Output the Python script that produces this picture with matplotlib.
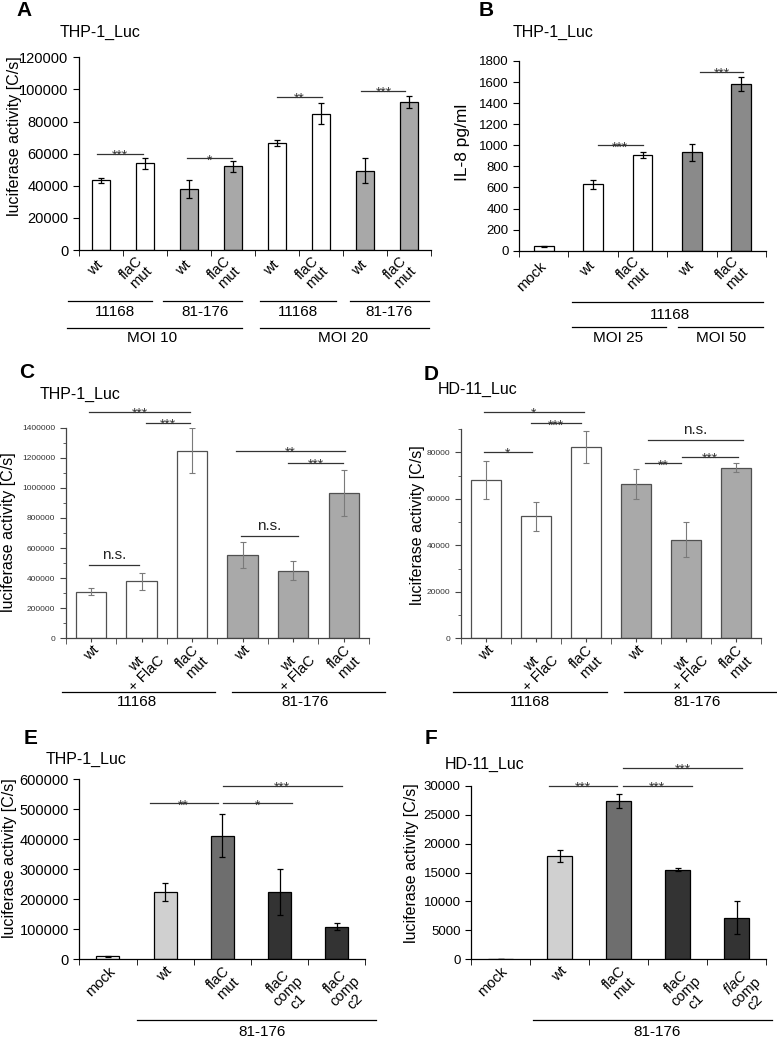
import numpy as np
import matplotlib
matplotlib.use('Agg')
import matplotlib.pyplot as plt
from matplotlib.lines import Line2D
from matplotlib.transforms import ScaledTranslation
from matplotlib.ticker import StrMethodFormatter, MultipleLocator

plt.rcParams['font.family'] = ['Liberation Sans', 'DejaVu Sans']
plt.rcParams['mathtext.fontset'] = 'custom'
plt.rcParams['mathtext.it'] = 'Liberation Sans:italic'
plt.rcParams['mathtext.rm'] = 'Liberation Sans'

W, H = 777, 1039

# ---- data ----
a_labels = ['wt', 'flaC\nmut', 'wt', 'flaC\nmut', 'wt', 'flaC\nmut', 'wt', 'flaC\nmut']
a_values = [43300, 53900, 38100, 52200, 66700, 85000, 49500, 92200]
a_errors = [1800, 3500, 5600, 3400, 2000, 6300, 8000, 3900]

b_labels = ['mock', 'wt', 'flaC\nmut', 'wt', 'flaC\nmut']
b_values = [40, 630, 905, 932, 1580]
b_errors = [3, 45, 27, 80, 65]

c_labels = ['wt', 'wt\n+ FlaC', 'flaC\nmut', 'wt', 'wt\n+ FlaC', 'flaC\nmut']
c_values = [310000, 378000, 1247000, 551000, 450000, 966000]
c_errors = [25000, 57000, 150000, 86000, 63000, 153000]

d_labels = c_labels
d_values = [68000, 52400, 82300, 66300, 42400, 73300]
d_errors = [8200, 6300, 7000, 6400, 7500, 2000]

e_labels = ['mock', 'wt', 'flaC\nmut', 'flaC\ncomp\nc1', 'flaC\ncomp\nc2']
e_values = [10000, 224000, 412000, 224000, 109000]
e_errors = [1000, 31000, 72000, 77000, 11000]

f_labels = ['mock', 'wt', 'flaC\nmut', 'flaC\ncomp\nc1', r'$\mathit{flaC}$' + '\ncomp\nc2']
f_values = [60, 17850, 27300, 15500, 7200]
f_errors = [0, 1000, 1200, 200, 2900]

# significance brackets: (bar i, bar j, height, text, shift i, shift j)
a_sig = [(0, 1, 60000, '***', -0.08, -0.05), (2, 3, 57000, '*', -0.05, -0.03),
         (4, 5, 95300, '**', 0, 0.03), (6, 7, 99000, '***', -0.08, -0.08)]
b_sig = [(1, 2, 1000, '***', 0.1, 0), (3, 4, 1700, '***', 0.16, 0.04)]
c_sig = [(0, 2, 1506000, '***', -0.04, -0.04), (1, 2, 1433000, '***', 0.09, -0.04),
         (0, 1, 488000, 'n.s.', -0.04, -0.05), (3, 5, 1245000, '**', -0.14, 0.03),
         (4, 5, 1168000, '***', -0.1, -0.02), (3, 4, 680000, 'n.s.', -0.03, 0.1)]
d_sig = [(0, 2, 97500, '*', -0.05, -0.05), (1, 2, 92500, '***', -0.1, -0.1),
         (0, 1, 80300, '*', -0.05, -0.08), (3, 5, 85300, 'n.s.', 0.23, 0.13),
         (3, 4, 75300, '**', 0.18, -0.1), (4, 5, 78100, '***', -0.09, 0.03)]
e_sig = [(1, 2, 520000, '**', -0.27, -0.08), (2, 3, 520000, '*', 0.01, 0.21),
         (2, 4, 578700, '***', 0.01, 0.09)]
f_sig = [(1, 2, 30000, '***', -0.17, -0.03), (2, 3, 30000, '***', 0.07, 0.24),
         (2, 4, 33100, '***', 0.07, 0.1)]

WHITE = 'white'
fig = plt.figure(figsize=(W / 100, H / 100), dpi=100)


def place_axes(x0, x1, y_top, y_bottom):
    return fig.add_axes([x0 / W, 1 - y_bottom / H, (x1 - x0) / W, (y_bottom - y_top) / H])


def fig_line(x0, x1, y, lw=0.9):
    fig.add_artist(Line2D([x0 / W, x1 / W], [1 - y / H, 1 - y / H], color='black',
                          lw=lw, transform=fig.transFigure))


def fig_text(x, y, s, size=11, ha='center', va='center', **kw):
    fig.text(x / W, 1 - y / H, s, fontsize=size, ha=ha, va=va, **kw)


def bar_panel(ax, labels, values, errors, colors, ylim, width, style='excel',
              tick_size=9, label_size=10.5):
    n = len(values)
    x = np.arange(n)
    origin = style == 'origin'
    if origin:
        edge, ecol, elw, spc = '#505050', '#7a7a7a', 0.8, '#444444'
    else:
        edge, ecol, elw, spc = 'black', 'black', 0.9, 'black'
    ax.bar(x, values, width=width, color=colors, edgecolor=edge, linewidth=0.9, zorder=2)
    ax.errorbar(x, values, yerr=errors, fmt='none', ecolor=ecol, elinewidth=elw,
                capsize=2.4, capthick=elw, zorder=3)
    ax.set_xlim(-0.5, n - 0.5)
    ax.set_ylim(*ylim)
    for s in ('top', 'right'):
        ax.spines[s].set_visible(False)
    for s in ('left', 'bottom'):
        ax.spines[s].set_color(spc)
        ax.spines[s].set_linewidth(0.9)
    ax.set_xticks(x)
    common = dict(rotation=45, multialignment='center', fontsize=label_size, linespacing=1.0)
    if origin:
        ax.set_xticklabels(labels, ha='center', va='top', **common)
        ax.tick_params(axis='x', which='major', length=3, pad=0.5, color=spc)
    elif style == 'excel_top':
        ax.set_xticklabels(labels, ha='right', va='top', rotation_mode='anchor', **common)
        ax.tick_params(axis='x', which='major', length=0, pad=3.5)
        # Excel pushes the three-line labels a little further right
        for lbl, s in zip(ax.get_xticklabels(), labels):
            if s.count('\n') == 2:
                lbl.set_transform(lbl.get_transform() +
                                  ScaledTranslation(4.5 / 72, 0, fig.dpi_scale_trans))
    else:
        ax.set_xticklabels(labels, ha='right', va='center', rotation_mode='anchor', **common)
        ax.tick_params(axis='x', which='major', length=0, pad=9.5)
    ax.set_xticks(np.arange(n + 1) - 0.5, minor=True)
    ax.tick_params(axis='x', which='minor', length=4, direction='out', color=spc)
    ax.yaxis.set_major_formatter(StrMethodFormatter('{x:.0f}'))
    ax.tick_params(axis='y', which='both', labelsize=tick_size, color=spc, length=4)
    if origin:
        ax.tick_params(axis='y', labelcolor='#333333')
        ax.tick_params(axis='y', which='minor', length=2)
    return ax


def sig(ax, marks, size=10):
    for i, j, y, txt, di, dj in marks:
        ax.plot([i + di, j + dj], [y, y], color='#333333', lw=0.9, clip_on=False)
        if txt == 'n.s.':
            ax.annotate(txt, ((i + di + j + dj) / 2, y), xytext=(0, 4), textcoords='offset points',
                        ha='center', va='baseline', fontsize=11, color='#222222',
                        annotation_clip=False)
        else:
            ax.annotate(txt, ((i + di + j + dj) / 2, y), xytext=(0, -4.5), textcoords='offset points',
                        ha='center', va='baseline', fontsize=size, color='#333333',
                        annotation_clip=False)


# ---- A ----
gA = '#a8a8a8'
axA = place_axes(79, 431, 57.3, 250)
bar_panel(axA, a_labels, a_values, a_errors, [WHITE, WHITE, gA, gA, WHITE, WHITE, gA, gA],
          (0, 120000), 0.41, tick_size=10.5)
axA.yaxis.set_major_locator(MultipleLocator(20000))
sig(axA, a_sig)
fig_text(24, 11, 'A', size=15, weight='bold')
fig_text(60, 32, 'THP-1_Luc', size=11.5, ha='left')
fig_text(15, 136, 'luciferase activity [C/s]', size=11.5, rotation=90)
for x0, x1, tx, s in [(68, 152, 115, '11168'), (163, 242, 205, '81-176'),
                      (260, 336, 298, '11168'), (350, 429, 389, '81-176')]:
    fig_line(x0, x1, 301)
    fig_text(tx, 312, s)
for x0, x1, tx, s in [(67, 242, 152, 'MOI 10'), (260, 429, 343, 'MOI 20')]:
    fig_line(x0, x1, 327.5)
    fig_text(tx, 338, s)

# ---- B ----
gB = '#8a8a8a'
axB = place_axes(519, 766, 61, 250.7)
bar_panel(axB, b_labels, b_values, b_errors, [WHITE, WHITE, WHITE, gB, gB],
          (0, 1800), 0.4, tick_size=9.5)
axB.yaxis.set_major_locator(MultipleLocator(200))
sig(axB, b_sig)
fig_text(486, 11, 'B', size=15, weight='bold')
fig_text(513, 32, 'THP-1_Luc', size=11.5, ha='left')
fig_text(463, 142, 'IL-8 pg/ml', size=12.5, rotation=90)
fig_line(572, 763, 302)
fig_text(670, 315, '11168')
fig_line(572, 666, 327)
fig_line(678, 763, 327)
fig_text(618, 338, 'MOI 25')
fig_text(721, 338, 'MOI 50')

# ---- C ----
gC = '#a9a9a9'
axC = place_axes(65.7, 369, 427.7, 638.3)
bar_panel(axC, c_labels, c_values, c_errors, [WHITE, WHITE, WHITE, gC, gC, gC],
          (0, 1400000), 0.6, style='origin', tick_size=6)
axC.yaxis.set_major_locator(MultipleLocator(200000))
axC.yaxis.set_minor_locator(MultipleLocator(100000))
sig(axC, c_sig)
fig_text(27, 373, 'C', size=15, weight='bold')
fig_text(40, 394, 'THP-1_Luc', size=11.5, ha='left')
fig_text(9, 532, 'luciferase activity [C/s]', size=11.5, rotation=90)
fig_line(62, 215, 691.7)
fig_line(232, 385, 691.7)
fig_text(137, 702, '11168')
fig_text(305, 702, '81-176')

# ---- D ----
axD = place_axes(461, 761, 429, 638.3)
bar_panel(axD, d_labels, d_values, d_errors, [WHITE, WHITE, WHITE, gC, gC, gC],
          (0, 90000), 0.6, style='origin', tick_size=6)
axD.yaxis.set_major_locator(MultipleLocator(20000))
axD.yaxis.set_minor_locator(MultipleLocator(10000))
sig(axD, d_sig)
fig_text(431, 375, 'D', size=15, weight='bold')
fig_text(438, 389, 'HD-11_Luc', size=11.5, ha='left')
fig_text(417, 525, 'luciferase activity [C/s]', size=11.5, rotation=90)
fig_line(453, 607, 691.7)
fig_line(624, 776, 691.7)
fig_text(530, 702, '11168')
fig_text(697, 702, '81-176')

# ---- E ----
ef_colors = [WHITE, '#d0d0d0', '#6e6e6e', '#333333', '#333333']
axE = place_axes(79.3, 365.3, 779.3, 959.3)
bar_panel(axE, e_labels, e_values, e_errors, ef_colors, (0, 600000), 0.4,
          style='excel_top', tick_size=10.5)
axE.yaxis.set_major_locator(MultipleLocator(100000))
sig(axE, e_sig)
fig_text(31, 739, 'E', size=15, weight='bold')
fig_text(46, 759, 'THP-1_Luc', size=11.5, ha='left')
fig_text(10, 858, 'luciferase activity [C/s]', size=11.5, rotation=90)
fig_line(137, 376, 1020)
fig_text(262, 1032, '81-176')

# ---- F ----
axF = place_axes(471, 766, 785.7, 959.3)
bar_panel(axF, f_labels, f_values, f_errors, ef_colors, (0, 30000), 0.41,
          style='excel_top', tick_size=9.5)
axF.yaxis.set_major_locator(MultipleLocator(5000))
sig(axF, f_sig)
fig_text(431, 738, 'F', size=15, weight='bold')
fig_text(445, 764, 'HD-11_Luc', size=11.5, ha='left')
fig_text(411, 863, 'luciferase activity [C/s]', size=11.5, rotation=90)
fig_line(533, 772, 1020)
fig_text(657, 1032, '81-176')

fig.savefig('out.png', dpi=100)
